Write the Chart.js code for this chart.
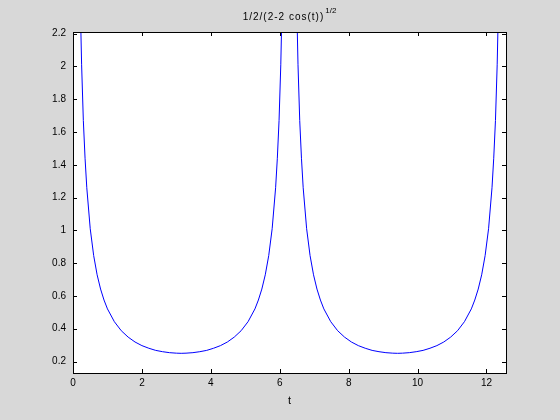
<!DOCTYPE html>
<html>
<head>
<meta charset="utf-8">
<script src="https://cdn.jsdelivr.net/npm/chart.js@4"></script>
<style>
  html, body { margin: 0; padding: 0; background: #d8d8d8; }
  #wrap { width: 560px; height: 420px; }
</style>
</head>
<body>
<div id="wrap"><canvas id="grafico"></canvas></div>
<script>
// valores (t, y)
const tValues = [0.15, 0.2, 0.25, 0.3, 0.35, 0.4, 0.5, 0.6, 0.7, 0.8, 0.9, 1.0, 1.2, 1.4, 1.6, 1.8, 2.0, 2.2, 2.4, 2.6, 2.8, 3.0, 3.14,
  3.28, 3.48, 3.68, 3.88, 4.08, 4.28, 4.48, 4.68, 4.88, 5.08, 5.28, 5.38, 5.48, 5.58, 5.68, 5.78, 5.88, 5.93, 5.98, 6.03, 6.08, 6.13,
  6.43, 6.48, 6.53, 6.58, 6.63, 6.68, 6.78, 6.88, 6.98, 7.08, 7.18, 7.28, 7.48, 7.68, 7.88, 8.08, 8.28, 8.48, 8.68, 8.88, 9.08, 9.28, 9.42,
  9.56, 9.76, 9.96, 10.16, 10.36, 10.56, 10.76, 10.96, 11.16, 11.36, 11.56, 11.66, 11.76, 11.86, 11.96, 12.06, 12.16, 12.21, 12.26, 12.31, 12.36, 12.42];
const yValues = [3.34, 2.50, 2.01, 1.67, 1.44, 1.26, 1.01, 0.846, 0.729, 0.642, 0.575, 0.521, 0.443, 0.388, 0.349, 0.319, 0.297, 0.281, 0.268, 0.260, 0.254, 0.251, 0.250,
  0.251, 0.254, 0.260, 0.268, 0.281, 0.297, 0.319, 0.349, 0.388, 0.443, 0.521, 0.575, 0.642, 0.729, 0.846, 1.01, 1.26, 1.44, 1.67, 2.01, 2.50, 3.34,
  3.34, 2.50, 2.01, 1.67, 1.44, 1.26, 1.01, 0.846, 0.729, 0.642, 0.575, 0.521, 0.443, 0.388, 0.349, 0.319, 0.297, 0.281, 0.268, 0.260, 0.254, 0.251, 0.250,
  0.251, 0.254, 0.260, 0.268, 0.281, 0.297, 0.319, 0.349, 0.388, 0.443, 0.521, 0.575, 0.642, 0.729, 0.846, 1.01, 1.26, 1.44, 1.67, 2.01, 2.50, 3.34];

const xTicks = [0, 2, 4, 6, 8, 10, 12];
const yTicks = [0.2, 0.4, 0.6, 0.8, 1, 1.2, 1.4, 1.6, 1.8, 2, 2.2];
const xMin = 0, xMax = 12.566;
const yMin = 0.13, yMax = 2.21;

const tituloPrincipal = '1/2/(2-2 cos(t))';
const tituloExponente = '1/2';
const fuente = '"Liberation Sans", Arial, sans-serif';

// marco y marcas hacia adentro, al estilo MATLAB
const marcoPlugin = {
  id: 'marco',
  beforeDraw(chart) {
    const { ctx, chartArea: a } = chart;
    ctx.save();
    ctx.fillStyle = '#ffffff';
    ctx.fillRect(a.left, a.top, a.right - a.left, a.bottom - a.top);
    ctx.restore();
  },
  afterDatasetsDraw(chart) {
    const { ctx, chartArea: a, scales } = chart;
    const len = 4;
    ctx.save();
    ctx.strokeStyle = '#000';
    ctx.lineWidth = 1;
    ctx.beginPath();
    xTicks.forEach(v => {
      const x = Math.round(scales.x.getPixelForValue(v)) + 0.5;
      ctx.moveTo(x, a.bottom); ctx.lineTo(x, a.bottom - len);
      ctx.moveTo(x, a.top); ctx.lineTo(x, a.top + len);
    });
    yTicks.forEach(v => {
      const y = Math.round(scales.y.getPixelForValue(v)) + 0.5;
      ctx.moveTo(a.left, y); ctx.lineTo(a.left + len, y);
      ctx.moveTo(a.right, y); ctx.lineTo(a.right - len, y);
    });
    ctx.stroke();
    ctx.strokeRect(Math.round(a.left) + 0.5, Math.round(a.top) + 0.5,
      Math.round(a.right - a.left), Math.round(a.bottom - a.top));

    // titulo con exponente
    ctx.fillStyle = '#000';
    ctx.textBaseline = 'alphabetic';
    ctx.letterSpacing = '1px';
    ctx.font = '10px ' + fuente;
    const w1 = ctx.measureText(tituloPrincipal).width;
    ctx.letterSpacing = '0px';
    ctx.font = '8px ' + fuente;
    const w2 = ctx.measureText(tituloExponente).width;
    const cx = (a.left + a.right) / 2;
    const x0 = cx - (w1 + w2 + 1) / 2;
    ctx.letterSpacing = '1px';
    ctx.font = '10px ' + fuente;
    ctx.fillText(tituloPrincipal, x0, 20);
    ctx.letterSpacing = '0px';
    ctx.font = '8px ' + fuente;
    ctx.fillText(tituloExponente, x0 + w1 + 1, 13);
    ctx.restore();
  }
};

const ctx = document.getElementById('grafico').getContext('2d');
new Chart(ctx, {
  type: 'scatter',
  data: {
    datasets: [{
      data: tValues.map((t, i) => ({ x: t, y: yValues[i] })),
      showLine: true,
      borderColor: '#0000ff',
      borderWidth: 1,
      pointRadius: 0,
      tension: 0
    }]
  },
  options: {
    responsive: true,
    maintainAspectRatio: false,
    animation: false,
    layout: { padding: { top: 32, right: 54, left: 0, bottom: 0 } },
    plugins: { legend: { display: false }, tooltip: { enabled: false } },
    scales: {
      x: {
        type: 'linear',
        min: xMin,
        max: xMax,
        afterBuildTicks: s => { s.ticks = xTicks.map(v => ({ value: v })); },
        afterFit: s => { s.height = 47; },
        grid: { display: false, drawTicks: false },
        border: { display: false },
        ticks: { color: '#000', font: { family: fuente, size: 10 }, padding: 4, maxRotation: 0,
          callback: v => String(Math.round(v * 10) / 10) },
        title: { display: true, text: 't', color: '#000', font: { family: fuente, size: 11 }, padding: { top: 0, bottom: 12 } }
      },
      y: {
        type: 'linear',
        min: yMin,
        max: yMax,
        afterBuildTicks: s => { s.ticks = yTicks.map(v => ({ value: v })); },
        afterFit: s => { s.width = 73; },
        grid: { display: false, drawTicks: false },
        border: { display: false },
        ticks: { color: '#000', font: { family: fuente, size: 10 }, padding: 7,
          callback: v => String(Math.round(v * 10) / 10) }
      }
    }
  },
  plugins: [marcoPlugin]
});
</script>
</body>
</html>
